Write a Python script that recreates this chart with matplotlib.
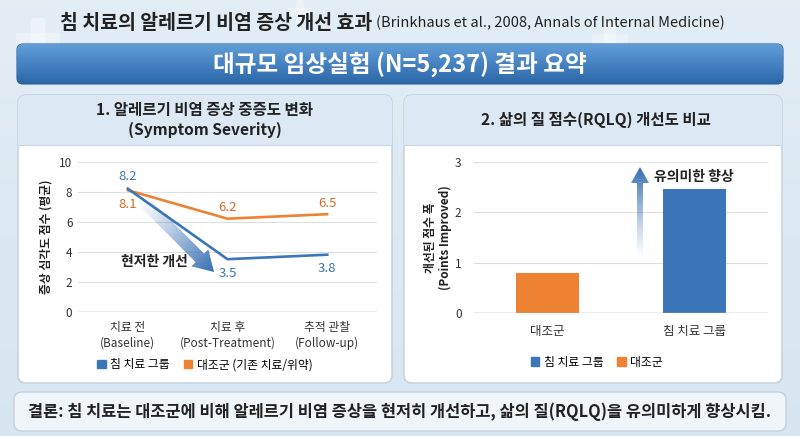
import matplotlib
matplotlib.use("Agg")
import matplotlib.pyplot as plt
import numpy as np
from matplotlib.patches import FancyBboxPatch, Polygon, Patch

plt.rcParams['font.family'] = ['Noto Sans CJK KR', 'DejaVu Sans']

# data
stages = ['치료 전\n(Baseline)', '치료 후\n(Post-Treatment)', '추적 관찰\n(Follow-up)']
acu_scores = [8.2, 3.5, 3.8]
ctrl_scores = [8.1, 6.2, 6.5]
groups = ['대조군', '침 치료 그룹']
rqlq_gain = [0.8, 2.45]

blue = '#3b76b8'
orange = '#ee8233'
dark = '#222222'

W, H = 800, 436
fig = plt.figure(figsize=(8, 4.36), dpi=100)

def fx(px):
    return px / W

def fy(py):
    return 1 - py / H

# background layer in pixel coords
bg = fig.add_axes([0, 0, 1, 1], zorder=0)
bg.set_xlim(0, W)
bg.set_ylim(H, 0)
bg.axis('off')
grad = np.linspace(0, 1, 100)[:, None]
bgcol = np.array([0.89, 0.93, 0.96])[None, None, :] * (1 - grad[..., None]) + \
        np.array([0.84, 0.90, 0.94])[None, None, :] * grad[..., None]
bg.imshow(bgcol, extent=(0, W, H, 0), aspect='auto', zorder=0)

# faint crosses in the background
for cx, cy, s in [(38, 40, 22), (300, 12, 12), (610, 40, 18)]:
    bg.add_patch(FancyBboxPatch((cx - s, cy - s / 3), 2 * s, 2 * s / 3, boxstyle='round,pad=0,rounding_size=2',
                                fc='white', ec='none', alpha=0.35, zorder=1))
    bg.add_patch(FancyBboxPatch((cx - s / 3, cy - s), 2 * s / 3, 2 * s, boxstyle='round,pad=0,rounding_size=2',
                                fc='white', ec='none', alpha=0.35, zorder=1))

def rounded(x, y, w, h, r, **kw):
    p = FancyBboxPatch((x, y), w, h, boxstyle='round,pad=0,rounding_size=%d' % r, **kw)
    bg.add_patch(p)
    return p

# title banner
banner = rounded(17, 44, 766, 40, 6, fc='#3d7bbd', ec='#2d5f95', lw=0.8, zorder=2)
bgrad = np.linspace(0, 1, 50)[:, None, None]
bimg = np.array([0.38, 0.62, 0.85])[None, None, :] * (1 - bgrad) + np.array([0.17, 0.40, 0.66])[None, None, :] * bgrad
bimg = np.repeat(bimg, 2, axis=1)
im = bg.imshow(bimg, extent=(17, 783, 84, 44), aspect='auto', zorder=3)
im.set_clip_path(banner)
bg.set_xlim(0, W)
bg.set_ylim(H, 0)

# panels
for x0, x1 in [(18, 392), (404, 782)]:
    pan = rounded(x0, 95, x1 - x0, 288, 8, fc='white', ec='#c4ced8', lw=1.0, zorder=2)
    hdr = bg.add_patch(plt.Rectangle((x0, 95), x1 - x0, 50, fc='#dce9f4', ec='none', zorder=3))
    hdr.set_clip_path(pan)
    bg.plot([x0, x1], [145, 145], color='#c8d6e3', lw=0.8, zorder=4)

# conclusion box
rounded(14, 392, 772, 39, 8, fc='#f0f5f9', ec='#c3d1de', lw=1.0, zorder=2)

# texts
fig.text(fx(372), fy(23), '침 치료의 알레르기 비염 증상 개선 효과', ha='right', va='center',
         fontsize=14, fontweight='bold', color=dark)
fig.text(fx(376), fy(23), '(Brinkhaus et al., 2008, Annals of Internal Medicine)', ha='left', va='center',
         fontsize=10.5, color=dark)
fig.text(fx(400), fy(64), '대규모 임상실험 (N=5,237) 결과 요약', ha='center', va='center',
         fontsize=17, fontweight='bold', color='white')
fig.text(fx(205), fy(120), '1. 알레르기 비염 증상 중증도 변화\n(Symptom Severity)', ha='center', va='center',
         fontsize=11.2, fontweight='bold', color=dark, linespacing=1.25)
fig.text(fx(596), fy(120), '2. 삶의 질 점수(RQLQ) 개선도 비교', ha='center', va='center',
         fontsize=11.2, fontweight='bold', color=dark)
fig.text(fx(400), fy(412), '결론: 침 치료는 대조군에 비해 알레르기 비염 증상을 현저히 개선하고, 삶의 질(RQLQ)을 유의미하게 향상시킴.',
         ha='center', va='center', fontsize=11.8, fontweight='bold', color=dark)

# ---- left chart
ax1 = fig.add_axes([fx(78), fy(311.7), fx(377) - fx(78), fy(161.7) - fy(311.7)], zorder=2)
ax1.set_facecolor('none')
x = np.arange(len(stages))
ax1.plot(x, ctrl_scores, color=orange, lw=1.9, zorder=3)
ax1.plot(x, acu_scores, color=blue, lw=1.9, zorder=4)
acu_off = [9, -10, -10]
ctrl_off = [-10, 8, 8]
for i in range(len(stages)):
    ax1.annotate('%.1f' % acu_scores[i], (x[i], acu_scores[i]), xytext=(0, acu_off[i]), textcoords='offset points',
                 ha='center', va='center', fontsize=9.5, color=blue)
    ax1.annotate('%.1f' % ctrl_scores[i], (x[i], ctrl_scores[i]), xytext=(0, ctrl_off[i]), textcoords='offset points',
                 ha='center', va='center', fontsize=9.5, color='#d46a22')
ax1.set_xlim(-0.5, 2.5)
ax1.set_ylim(0, 10)
ax1.set_yticks([0, 2, 4, 6, 8, 10])
ax1.set_xticks(x)
ax1.set_xticklabels(stages, fontsize=8.5, color='#333333', linespacing=1.2)
ax1.tick_params(axis='both', length=0, colors='#333333')
ax1.tick_params(axis='y', pad=4, labelsize=8.5)
ax1.tick_params(axis='x', pad=7)
ax1.grid(axis='y', color='#dedede', lw=0.8)
ax1.set_axisbelow(True)
for s in ax1.spines.values():
    s.set_visible(False)
ax1.axhline(0, color='#aaaaaa', lw=1)
ax1.set_ylabel('증상 심각도 점수 (평균)', fontsize=8.5, fontweight='bold', color=dark, labelpad=5)
ax1.legend(handles=[Patch(color=blue, label='침 치료 그룹'), Patch(color=orange, label='대조군 (기존 치료/위약)')],
           loc='center', bbox_to_anchor=(0.425, -0.355), ncol=2, frameon=False, fontsize=8.5,
           handlelength=0.7, handleheight=0.7, handletextpad=0.4, columnspacing=1.2)

# ---- right chart
ax2 = fig.add_axes([fx(474), fy(313), fx(768) - fx(474), fy(161.7) - fy(313)], zorder=2)
ax2.set_facecolor('none')
ax2.bar([0, 1], rqlq_gain, width=0.43, color=[orange, blue], zorder=3)
ax2.set_xlim(-0.5, 1.5)
ax2.set_ylim(0, 3)
ax2.set_yticks([0, 1, 2, 3])
ax2.set_xticks([0, 1])
ax2.set_xticklabels(groups, fontsize=9, color=dark)
ax2.tick_params(axis='both', length=0, colors='#333333')
ax2.tick_params(axis='y', pad=9, labelsize=8.5)
ax2.tick_params(axis='x', pad=9)
ax2.grid(axis='y', color='#dedede', lw=0.8)
ax2.set_axisbelow(True)
for s in ax2.spines.values():
    s.set_visible(False)
ax2.axhline(0, color='#aaaaaa', lw=1, zorder=4)
ax2.set_ylabel('개선된 점수 폭\n(Points Improved)', fontsize=8.5, fontweight='bold', color=dark, labelpad=2,
               linespacing=1.2)
ax2.legend(handles=[Patch(color=blue, label='침 치료 그룹'), Patch(color=orange, label='대조군')],
           loc='center', bbox_to_anchor=(0.418, -0.325), ncol=2, frameon=False, fontsize=8.5,
           handlelength=0.7, handleheight=0.7, handletextpad=0.4, columnspacing=1.2)

# ---- overlay for gradient arrows (pixel coords)
ov = fig.add_axes([0, 0, 1, 1], zorder=5)
ov.set_facecolor('none')
ov.axis('off')

def grad_arrow(x0, y0, x1, y1, width, head_w, head_l, rgb):
    d = np.array([x1 - x0, y1 - y0], float)
    L = np.hypot(*d)
    u = d / L
    n = np.array([-u[1], u[0]])
    p0 = np.array([x0, y0], float)
    neck = p0 + u * (L - head_l)
    pts = [p0 + n * width / 2, neck + n * width / 2, neck + n * head_w / 2, np.array([x1, y1], float),
           neck - n * head_w / 2, neck - n * width / 2, p0 - n * width / 2]
    poly = Polygon(pts, closed=True, fc='none', ec='none')
    ov.add_patch(poly)
    pts = np.array(pts)
    xmin, ymin = pts.min(axis=0)
    xmax, ymax = pts.max(axis=0)
    xs = np.linspace(xmin, xmax, 120)
    ys = np.linspace(ymin, ymax, 120)
    X, Y = np.meshgrid(xs, ys)
    t = ((X - x0) * u[0] + (Y - y0) * u[1]) / L
    t = np.clip(t, 0, 1)
    img = np.zeros(X.shape + (4,))
    img[..., :3] = rgb
    img[..., 3] = t ** 1.2
    im = ov.imshow(img, extent=(xmin, xmax, ymax, ymin), origin='upper', aspect='auto', interpolation='bilinear')
    im.set_clip_path(poly)

arrow_rgb = np.array([0.20, 0.43, 0.70])
grad_arrow(140, 198, 214, 272, 12, 24, 20, arrow_rgb)
grad_arrow(640, 258, 640, 167, 6, 18, 16, arrow_rgb)
ov.set_xlim(0, W)
ov.set_ylim(H, 0)
fig.text(fx(154), fy(262), '현저한 개선', ha='center', va='center', fontsize=10, fontweight='bold', color=dark, zorder=6)
fig.text(fx(694), fy(177), '유의미한 향상', ha='center', va='center', fontsize=10, fontweight='bold', color=dark, zorder=6)

fig.savefig('out.png', dpi=100)
